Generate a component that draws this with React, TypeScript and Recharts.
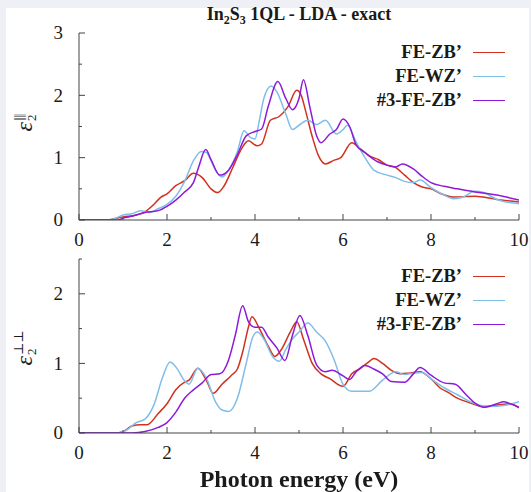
import React from 'react';
import { LineChart, Line, XAxis, YAxis, Legend } from 'recharts';

type Pt = [number, number];

// photon energy (eV), epsilon_2
const parZB: Pt[] = [
  [0, 0], [0.6, 0], [0.8, 0.02], [1.0, 0.05], [1.3, 0.08], [1.5, 0.13], [1.7, 0.25], [1.85, 0.36],
  [2.0, 0.42], [2.2, 0.55], [2.4, 0.63], [2.6, 0.75], [2.8, 0.68], [3.0, 0.5], [3.15, 0.44],
  [3.3, 0.55], [3.5, 0.85], [3.7, 1.15], [3.85, 1.27], [4.05, 1.19], [4.15, 1.22], [4.35, 1.6],
  [4.55, 1.66], [4.75, 1.82], [4.95, 2.08], [5.05, 2.0], [5.15, 1.75], [5.3, 1.34], [5.45, 1.02],
  [5.6, 0.9], [5.8, 0.96], [5.95, 1.0], [6.2, 1.24], [6.4, 1.14], [6.6, 1.03], [6.8, 0.97],
  [7.0, 0.88], [7.2, 0.84], [7.4, 0.72], [7.6, 0.6], [7.8, 0.53], [8.0, 0.5], [8.2, 0.43],
  [8.5, 0.37], [9.0, 0.38], [9.5, 0.33], [10, 0.29],
];
const parWZ: Pt[] = [
  [0, 0], [0.7, 0], [0.9, 0.05], [1.0, 0.08], [1.2, 0.1], [1.4, 0.15], [1.6, 0.12], [1.8, 0.18],
  [2.0, 0.25], [2.2, 0.38], [2.4, 0.62], [2.6, 0.95], [2.78, 1.1], [2.9, 1.08], [3.0, 0.95],
  [3.1, 0.8], [3.25, 0.69], [3.4, 0.8], [3.6, 1.1], [3.75, 1.43], [3.9, 1.32], [4.0, 1.3],
  [4.1, 1.6], [4.2, 1.95], [4.37, 2.15], [4.5, 2.05], [4.7, 1.7], [4.85, 1.45], [5.0, 1.52],
  [5.2, 1.6], [5.4, 1.53], [5.6, 1.6], [5.85, 1.38], [6.0, 1.45], [6.1, 1.52], [6.3, 1.25],
  [6.5, 1.0], [6.7, 0.8], [7.0, 0.72], [7.2, 0.68], [7.4, 0.62], [7.6, 0.6], [7.75, 0.64],
  [8.0, 0.52], [8.3, 0.4], [8.5, 0.34], [8.7, 0.36], [9.0, 0.46], [9.2, 0.44], [9.5, 0.33],
  [10, 0.26],
];
const parZB3: Pt[] = [
  [0, 0], [0.9, 0], [1.0, 0.03], [1.2, 0.06], [1.5, 0.12], [1.8, 0.15], [2.0, 0.22], [2.2, 0.32],
  [2.4, 0.45], [2.6, 0.6], [2.72, 0.85], [2.88, 1.13], [3.0, 0.97], [3.2, 0.72], [3.4, 0.8],
  [3.6, 1.05], [3.8, 1.35], [4.0, 1.42], [4.15, 1.46], [4.3, 1.82], [4.52, 2.22], [4.7, 1.95],
  [4.85, 1.77], [5.0, 1.95], [5.1, 2.25], [5.25, 1.8], [5.4, 1.35], [5.5, 1.24], [5.7, 1.38],
  [5.85, 1.45], [6.0, 1.62], [6.15, 1.5], [6.3, 1.2], [6.5, 1.08], [6.8, 0.93], [7.0, 0.88],
  [7.2, 0.85], [7.35, 0.9], [7.6, 0.82], [7.8, 0.7], [8.0, 0.6], [8.3, 0.54], [8.6, 0.5],
  [9.0, 0.45], [9.5, 0.4], [10, 0.32],
];

const perpZB: Pt[] = [
  [0, 0], [0.8, 0], [1.0, 0.02], [1.2, 0.1], [1.4, 0.12], [1.55, 0.12], [1.8, 0.28], [2.0, 0.42],
  [2.2, 0.62], [2.4, 0.73], [2.5, 0.76], [2.7, 0.93], [2.9, 0.75], [3.05, 0.57], [3.25, 0.7],
  [3.45, 0.82], [3.6, 0.92], [3.73, 1.19], [3.85, 1.52], [3.93, 1.67], [4.1, 1.5], [4.3, 1.25],
  [4.45, 1.1], [4.6, 1.2], [4.8, 1.45], [4.95, 1.6], [5.1, 1.35], [5.3, 1.0], [5.5, 0.85],
  [5.7, 0.78], [6.0, 0.67], [6.2, 0.85], [6.4, 0.93], [6.6, 1.03], [6.7, 1.07], [6.9, 1.0],
  [7.1, 0.9], [7.3, 0.85], [7.5, 0.86], [7.75, 0.88], [8.0, 0.78], [8.2, 0.65], [8.4, 0.58],
  [8.6, 0.5], [8.9, 0.43], [9.2, 0.38], [9.5, 0.4], [9.8, 0.42], [10, 0.36],
];
const perpWZ: Pt[] = [
  [0, 0], [0.9, 0], [1.1, 0.05], [1.3, 0.15], [1.5, 0.2], [1.7, 0.4], [1.9, 0.8], [2.07, 1.02],
  [2.2, 0.95], [2.4, 0.75], [2.5, 0.7], [2.7, 0.93], [2.9, 0.78], [3.1, 0.45], [3.25, 0.33],
  [3.4, 0.31], [3.6, 0.5], [3.8, 1.0], [3.95, 1.38], [4.05, 1.45], [4.2, 1.35], [4.4, 1.1],
  [4.55, 1.03], [4.7, 1.2], [4.85, 1.35], [5.0, 1.45], [5.2, 1.58], [5.4, 1.45], [5.6, 1.32],
  [5.8, 1.05], [6.0, 0.7], [6.2, 0.6], [6.6, 0.6], [6.9, 0.76], [7.2, 0.88], [7.4, 0.84],
  [7.6, 0.86], [7.8, 0.87], [8.0, 0.78], [8.3, 0.65], [8.6, 0.55], [9.0, 0.42], [9.3, 0.38],
  [9.7, 0.4], [10, 0.45],
];
const perpZB3: Pt[] = [
  [0, 0], [1.2, 0], [1.5, 0.02], [1.8, 0.08], [2.0, 0.15], [2.2, 0.3], [2.4, 0.5], [2.6, 0.62],
  [2.8, 0.72], [3.0, 0.84], [3.2, 0.85], [3.4, 1.05], [3.55, 1.4], [3.72, 1.83], [3.85, 1.6],
  [4.0, 1.52], [4.15, 1.52], [4.3, 1.38], [4.5, 1.22], [4.68, 1.04], [4.85, 1.4], [5.02, 1.69],
  [5.2, 1.4], [5.4, 0.98], [5.6, 0.88], [5.75, 0.9], [6.0, 0.82], [6.15, 0.77], [6.3, 0.88],
  [6.5, 0.97], [6.7, 0.92], [6.9, 0.85], [7.1, 0.74], [7.4, 0.73], [7.6, 0.85], [7.75, 0.94],
  [8.0, 0.83], [8.3, 0.72], [8.55, 0.7], [8.8, 0.55], [9.0, 0.43], [9.2, 0.37], [9.5, 0.42],
  [9.65, 0.45], [9.8, 0.42], [10, 0.37],
];

const energyTicks = [0, 1, 2, 3, 4, 5, 6, 7, 8, 9, 10];
const parTicks = [0, 0.5, 1, 1.5, 2, 2.5, 3];
const perpTicks = [0, 0.5, 1, 1.5, 2, 2.5];
const seriesNames = ['FE-ZB’', 'FE-WZ’', '#3-FE-ZB’'];
const seriesColors = ['#d0321f', '#80bde9', '#8c1ad8'];

const SERIF = '"Liberation Serif", "DejaVu Serif", "Noto Serif", Tinos, "Times New Roman", Times, serif';
const AXIS = '#444';
const INK = '#1a1a1a';

const toRows = (pts: Pt[]) => pts.map(([e, v]) => ({ e, v }));

const BottomTick = ({ x, y, payload }: any) => {
  const major = payload.value % 2 === 0;
  return (
    <g>
      <line x1={x} x2={x} y1={y} y2={y - (major ? 6 : 3)} stroke={AXIS} />
      {major && (
        <text x={x} y={y + 26} textAnchor="middle" fontSize={19} fontFamily={SERIF} fill={INK}>
          {payload.value}
        </text>
      )}
    </g>
  );
};

const TopTick = ({ x, y, payload }: any) => {
  const major = payload.value % 2 === 0;
  return <line x1={x} x2={x} y1={y} y2={y + (major ? 6 : 3)} stroke={AXIS} />;
};

const LeftTick = ({ x, y, payload }: any) => {
  const major = Number.isInteger(payload.value);
  return (
    <g>
      <line x1={x} x2={x + (major ? 6 : 3)} y1={y} y2={y} stroke={AXIS} />
      {major && (
        <text x={x - 16} y={y} dy="0.34em" textAnchor="end" fontSize={19} fontFamily={SERIF} fill={INK}>
          {payload.value}
        </text>
      )}
    </g>
  );
};

const RightTick = ({ x, y, payload }: any) => {
  const major = Number.isInteger(payload.value);
  return <line x1={x} x2={x - (major ? 6 : 3)} y1={y} y2={y} stroke={AXIS} />;
};

const KeyBox = ({ payload }: any) => {
  const rows = [...(payload || [])].sort(
    (a: any, b: any) => seriesNames.indexOf(a.value) - seriesNames.indexOf(b.value),
  );
  return (
    <div style={{ fontFamily: SERIF, fontWeight: 'bold', fontSize: 18.5, color: INK }}>
      {rows.map((p: any) => (
        <div key={p.value} style={{ display: 'flex', justifyContent: 'flex-end', alignItems: 'center', height: 24 }}>
          <span>{p.value}</span>
          <span style={{ display: 'inline-block', width: 32, height: 0, borderTop: `1.5px solid ${p.color}`, marginLeft: 11 }} />
        </div>
      ))}
    </div>
  );
};

function Panel({ sets, yMax, yTicks, top, height, marginTop, keyTop }: any) {
  return (
    <div style={{ position: 'absolute', left: 0, top }}>
      <LineChart width={531} height={height} margin={{ top: marginTop, right: 12, bottom: 0, left: 0 }}>
        <XAxis xAxisId="b" dataKey="e" type="number" domain={[0, 10]} ticks={energyTicks}
          height={30} tickSize={0} tickMargin={0} tickLine={false} tick={BottomTick}
          axisLine={{ stroke: AXIS }} allowDataOverflow />
        <XAxis xAxisId="t" orientation="top" dataKey="e" type="number" domain={[0, 10]} ticks={energyTicks}
          height={0} tickSize={0} tickMargin={0} tickLine={false} tick={TopTick}
          axisLine={{ stroke: AXIS }} allowDataOverflow />
        <YAxis yAxisId="l" type="number" domain={[0, yMax]} ticks={yTicks} width={79}
          tickSize={0} tickMargin={0} tickLine={false} tick={LeftTick}
          axisLine={{ stroke: AXIS }} allowDataOverflow />
        <YAxis yAxisId="r" orientation="right" type="number" domain={[0, yMax]} ticks={yTicks} width={0}
          tickSize={0} tickMargin={0} tickLine={false} tick={RightTick}
          axisLine={{ stroke: AXIS }} allowDataOverflow />
        {sets.map((pts: Pt[], i: number) => (
          <Line key={seriesNames[i]} xAxisId="b" yAxisId="l" data={toRows(pts)} dataKey="v"
            name={seriesNames[i]} type="monotone" stroke={seriesColors[i]} strokeWidth={1.5}
            dot={false} activeDot={false} isAnimationActive={false} />
        ))}
        <Legend layout="vertical" align="center" verticalAlign="middle" content={KeyBox}
          wrapperStyle={{ position: 'absolute', top: keyTop, left: 0, width: 505 }} />
      </LineChart>
    </div>
  );
}

export default function App() {
  return (
    <div style={{ position: 'fixed', left: 0, top: 0, width: 531, height: 492, background: '#eff0f6' }}>
      <div style={{ position: 'absolute', left: 6, top: 8, width: 523, height: 484, background: '#fff' }} />
      <div style={{ position: 'absolute', left: 299, top: 16, transform: 'translate(-50%, -50%)', whiteSpace: 'nowrap',
        fontFamily: SERIF, fontWeight: 'bold', fontSize: 18, color: INK }}>
        In<sub style={{ fontSize: 12 }}>2</sub>S<sub style={{ fontSize: 12 }}>3</sub> 1QL - LDA - exact
      </div>
      <Panel sets={[parZB, parWZ, parZB3]} yMax={3} yTicks={parTicks} top={0} height={250} marginTop={33} keyTop={40} />
      <Panel sets={[perpZB, perpWZ, perpZB3]} yMax={2.5} yTicks={perpTicks} top={240} height={223} marginTop={19} keyTop={24} />
      <div style={{ position: 'absolute', left: 24, top: 123, transform: 'translate(-50%, -50%) rotate(-90deg)', whiteSpace: 'nowrap',
        fontFamily: SERIF, color: INK, display: 'flex', alignItems: 'center' }}>
        <span style={{ fontStyle: 'italic', fontSize: 24 }}>ε</span>
        <span style={{ display: 'inline-flex', flexDirection: 'column', fontSize: 13, lineHeight: 1, marginLeft: 1 }}>
          <span style={{ letterSpacing: -1 }}>||||</span>
          <span>2</span>
        </span>
      </div>
      <div style={{ position: 'absolute', left: 24, top: 348, transform: 'translate(-50%, -50%) rotate(-90deg)', whiteSpace: 'nowrap',
        fontFamily: SERIF, color: INK, display: 'flex', alignItems: 'center' }}>
        <span style={{ fontStyle: 'italic', fontSize: 24 }}>ε</span>
        <span style={{ display: 'inline-flex', flexDirection: 'column', fontSize: 13, lineHeight: 1, marginLeft: 1 }}>
          <span>⊥⊥</span>
          <span>2</span>
        </span>
      </div>
      <div style={{ position: 'absolute', left: 299, top: 479, transform: 'translate(-50%, -50%)', whiteSpace: 'nowrap',
        fontFamily: SERIF, fontWeight: 'bold', fontSize: 24, color: INK }}>
        Photon energy (eV)
      </div>
    </div>
  );
}
